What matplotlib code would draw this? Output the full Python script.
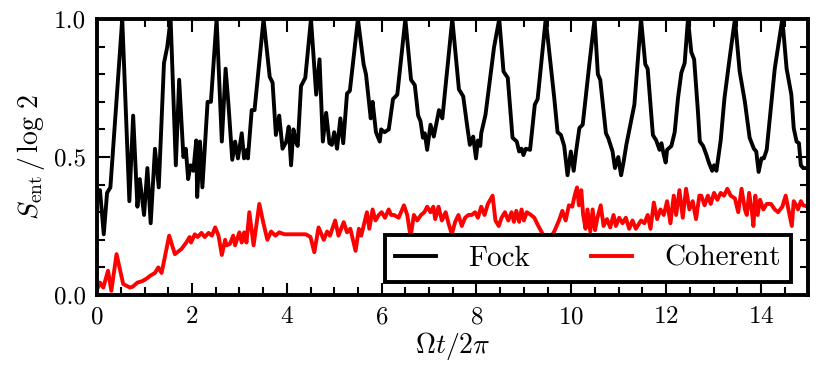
import matplotlib
matplotlib.use("Agg")
import matplotlib.pyplot as plt
from matplotlib.ticker import MultipleLocator

plt.rcParams['font.family'] = 'serif'
plt.rcParams['font.serif'] = ['cmr10', 'DejaVu Serif']
plt.rcParams['mathtext.fontset'] = 'cm'
plt.rcParams['axes.formatter.use_mathtext'] = True

# Fock state: entanglement entropy
fock_t = [0.00, 0.06, 0.14, 0.21, 0.28, 0.53, 0.68, 0.76, 0.85, 0.90, 0.99, 1.06, 1.13, 1.22, 1.30,
          1.41, 1.48, 1.55, 1.66, 1.73, 1.82, 1.87, 1.92, 1.97, 2.03, 2.09, 2.11, 2.17, 2.22, 2.33,
          2.40, 2.52, 2.63, 2.71, 2.77, 2.85, 2.91, 2.97, 3.05, 3.10, 3.16, 3.18, 3.26, 3.32, 3.51,
          3.64, 3.70, 3.77, 3.84, 3.91, 3.99, 4.04, 4.09, 4.14, 4.19, 4.23, 4.30, 4.39, 4.51, 4.62,
          4.69, 4.76, 4.83, 4.90, 4.95, 5.00, 5.06, 5.13, 5.19, 5.27, 5.33, 5.50, 5.62, 5.67, 5.77,
          5.81, 5.88, 5.96, 5.99, 6.06, 6.15, 6.24, 6.33, 6.50, 6.62, 6.70, 6.77, 6.82, 6.87, 6.91,
          6.96, 7.03, 7.10, 7.21, 7.28, 7.49, 7.63, 7.72, 7.79, 7.86, 7.93, 7.99, 8.03, 8.08, 8.10,
          8.19, 8.37, 8.48, 8.57, 8.66, 8.76, 8.85, 8.90, 8.95, 8.99, 9.04, 9.13, 9.23, 9.29, 9.46,
          9.64, 9.71, 9.78, 9.85, 9.92, 9.99, 10.05, 10.10, 10.17, 10.24, 10.38, 10.49, 10.56, 10.61,
          10.73, 10.78, 10.87, 10.92, 10.99, 11.05, 11.10, 11.16, 11.26, 11.33, 11.47, 11.56, 11.61,
          11.72, 11.79, 11.86, 11.90, 11.95, 11.99, 12.02, 12.11, 12.18, 12.25, 12.32, 12.39, 12.46,
          12.53, 12.59, 12.67, 12.71, 12.78, 12.85, 12.90, 12.97, 13.01, 13.06, 13.15, 13.23, 13.34,
          13.45, 13.55, 13.66, 13.76, 13.85, 13.90, 13.95, 14.01, 14.06, 14.12, 14.21, 14.29, 14.45,
          14.54, 14.64, 14.69, 14.75, 14.80, 14.84, 14.89, 15.00]
fock_s = [0.38, 0.38, 0.22, 0.37, 0.39, 1.00, 0.34, 0.65, 0.32, 0.42, 0.29, 0.46, 0.26, 0.53, 0.39,
          0.84, 0.90, 1.00, 0.47, 0.78, 0.50, 0.53, 0.42, 0.47, 0.45, 0.56, 0.355, 0.556, 0.39, 0.70,
          0.70, 1.00, 0.556, 0.82, 0.69, 0.49, 0.556, 0.495, 0.586, 0.495, 0.526, 0.495, 0.67, 0.67, 1.00,
          0.79, 0.77, 0.58, 0.65, 0.53, 0.556, 0.61, 0.47, 0.60, 0.556, 0.54, 0.757, 0.787, 1.00, 0.726,
          0.854, 0.556, 0.66, 0.55, 0.544, 0.59, 0.53, 0.64, 0.55, 0.73, 0.74, 1.00, 0.836, 0.80, 0.64,
          0.70, 0.59, 0.556, 0.60, 0.59, 0.60, 0.71, 0.726, 1.00, 0.78, 0.76, 0.65, 0.63, 0.57, 0.586,
          0.526, 0.617, 0.574, 0.67, 0.64, 1.00, 0.745, 0.72, 0.63, 0.544, 0.574, 0.495, 0.56, 0.54, 0.586,
          0.653, 0.897, 1.00, 0.81, 0.787, 0.57, 0.556, 0.52, 0.53, 0.507, 0.53, 0.526, 0.69, 0.71, 1.00,
          0.714, 0.59, 0.58, 0.54, 0.434, 0.52, 0.45, 0.52, 0.605, 0.617, 0.836, 1.00, 0.80, 0.78,
          0.586, 0.568, 0.52, 0.46, 0.50, 0.434, 0.48, 0.544, 0.63, 0.69, 1.00, 0.836, 0.82,
          0.58, 0.56, 0.526, 0.55, 0.507, 0.48, 0.526, 0.54, 0.59, 0.714, 0.805, 0.84, 1.00,
          0.88, 0.854, 0.665, 0.556, 0.54, 0.507, 0.48, 0.45, 0.47, 0.45, 0.56, 0.714, 0.86,
          1.00, 0.81, 0.70, 0.57, 0.53, 0.52, 0.446, 0.495, 0.495, 0.526, 0.68, 0.82, 1.00,
          0.82, 0.726, 0.605, 0.556, 0.55, 0.47, 0.46, 0.46]

# Coherent state
coh_t = [0.00, 0.06, 0.13, 0.23, 0.30, 0.41, 0.55, 0.69, 0.75, 0.85, 0.95, 1.05, 1.12, 1.22, 1.29,
         1.36, 1.52, 1.64, 1.78, 1.88, 1.95, 1.98, 2.06, 2.12, 2.20, 2.27, 2.35, 2.42, 2.49, 2.56,
         2.63, 2.70, 2.73, 2.80, 2.87, 2.91, 3.00, 3.05, 3.10, 3.15, 3.21, 3.30, 3.42, 3.51, 3.59,
         3.67, 3.76, 3.84, 3.95, 4.10, 4.25, 4.40, 4.50, 4.58, 4.67, 4.78, 4.85, 4.91, 5.02, 5.09,
         5.20, 5.27, 5.34, 5.45, 5.52, 5.57, 5.62, 5.69, 5.74, 5.81, 5.87, 5.94, 6.00, 6.07, 6.15,
         6.20, 6.26, 6.36, 6.47, 6.54, 6.61, 6.68, 6.75, 6.83, 6.90, 6.96, 7.03, 7.09, 7.13, 7.20,
         7.27, 7.35, 7.41, 7.48, 7.55, 7.62, 7.69, 7.76, 7.83, 7.90, 7.97, 8.03, 8.10, 8.17, 8.24,
         8.34, 8.40, 8.47, 8.53, 8.60, 8.67, 8.74, 8.79, 8.84, 8.90, 8.95, 9.00, 9.06, 9.15, 9.22,
         9.29, 9.43, 9.53, 9.64, 9.74, 9.81, 9.88, 9.95, 10.02, 10.07, 10.12, 10.16, 10.21, 10.25,
         10.30, 10.34, 10.40, 10.45, 10.50, 10.55, 10.62, 10.68, 10.75, 10.82, 10.89, 10.94, 11.01,
         11.08, 11.15, 11.22, 11.29, 11.36, 11.47, 11.54, 11.61, 11.67, 11.74, 11.81, 11.88, 11.95,
         12.02, 12.09, 12.16, 12.21, 12.28, 12.35, 12.42, 12.49, 12.56, 12.63, 12.70, 12.74, 12.81,
         12.88, 12.94, 13.01, 13.08, 13.15, 13.22, 13.29, 13.36, 13.45, 13.52, 13.59, 13.66, 13.70,
         13.75, 13.81, 13.84, 13.88, 13.93, 13.98, 14.05, 14.12, 14.21, 14.29, 14.36, 14.45, 14.52,
         14.59, 14.65, 14.69, 14.74, 14.78, 14.84, 14.89, 15.00]
coh_s = [0.02, 0.045, 0.027, 0.088, 0.015, 0.148, 0.04, 0.027, 0.03, 0.045, 0.05, 0.06, 0.07, 0.08, 0.10,
         0.08, 0.215, 0.148, 0.167, 0.19, 0.21, 0.19, 0.22, 0.21, 0.225, 0.21, 0.225, 0.215, 0.245, 0.215,
         0.145, 0.20, 0.18, 0.185, 0.215, 0.18, 0.227, 0.19, 0.227, 0.19, 0.30, 0.18, 0.33, 0.258, 0.20,
         0.23, 0.215, 0.227, 0.22, 0.22, 0.22, 0.22, 0.21, 0.155, 0.245, 0.20, 0.23, 0.215, 0.27, 0.215,
         0.264, 0.227, 0.24, 0.16, 0.24, 0.215, 0.25, 0.30, 0.24, 0.31, 0.27, 0.29, 0.30, 0.28, 0.31,
         0.29, 0.29, 0.28, 0.325, 0.29, 0.21, 0.29, 0.27, 0.29, 0.30, 0.32, 0.30, 0.32, 0.275, 0.32,
         0.27, 0.30, 0.26, 0.22, 0.265, 0.29, 0.25, 0.28, 0.29, 0.29, 0.30, 0.28, 0.32, 0.29, 0.33,
         0.36, 0.27, 0.25, 0.28, 0.30, 0.27, 0.30, 0.265, 0.305, 0.265, 0.31, 0.27, 0.30, 0.29, 0.28,
         0.255, 0.21, 0.20, 0.23, 0.27, 0.305, 0.27, 0.325, 0.32, 0.36, 0.39, 0.325, 0.38, 0.29,
         0.24, 0.31, 0.23, 0.31, 0.235, 0.28, 0.325, 0.25, 0.275, 0.245, 0.29, 0.25, 0.28,
         0.26, 0.28, 0.24, 0.27, 0.24, 0.27, 0.26, 0.29, 0.24, 0.335, 0.275, 0.31, 0.29,
         0.34, 0.26, 0.36, 0.29, 0.38, 0.28, 0.385, 0.31, 0.34, 0.275, 0.36, 0.36, 0.325,
         0.36, 0.33, 0.37, 0.345, 0.37, 0.36, 0.385, 0.36, 0.35, 0.30, 0.385, 0.31, 0.29,
         0.37, 0.30, 0.25, 0.36, 0.29, 0.345, 0.31, 0.33, 0.33, 0.31, 0.30, 0.32, 0.36,
         0.30, 0.25, 0.34, 0.325, 0.31, 0.34, 0.325, 0.32]

fig = plt.figure(figsize=(8.3, 3.66), dpi=100)
ax = fig.add_axes([0.117, 0.194, 0.857, 0.754])

ax.plot(fock_t, fock_s, color='black', lw=2.8, label='Fock')
ax.plot(coh_t, coh_s, color='red', lw=2.8, label='Coherent')

ax.set_xlim(0, 15)
ax.set_ylim(0, 1)
ax.xaxis.set_major_locator(MultipleLocator(2))
ax.xaxis.set_minor_locator(MultipleLocator(0.5))
ax.yaxis.set_major_locator(MultipleLocator(0.5))
ax.yaxis.set_minor_locator(MultipleLocator(0.1))
ax.yaxis.set_major_formatter(matplotlib.ticker.FormatStrFormatter('%.1f'))
ax.tick_params(which='both', direction='in', top=True, right=True, labelsize=18, width=1.5)
ax.tick_params(which='major', length=9, pad=8)
ax.tick_params(which='minor', length=5.5)
for sp in ax.spines.values():
    sp.set_linewidth(2.8)

ax.set_xlabel(r'$\Omega t/2\pi$', fontsize=20, labelpad=1)
ax.set_ylabel(r'$S_{\rm ent}\,/\,\log\,2$', fontsize=20, labelpad=5)

leg = ax.legend(loc='lower right', bbox_to_anchor=(0.975, 0.047), borderaxespad=0,
                ncol=2, fontsize=21, fancybox=False, framealpha=1, edgecolor='black',
                handlelength=1.4, columnspacing=2.1, handletextpad=1.1,
                borderpad=0.35)
leg.get_frame().set_linewidth(2.8)
for line in leg.get_lines():
    line.set_linewidth(2.8)

fig.savefig('out.png', dpi=100)
